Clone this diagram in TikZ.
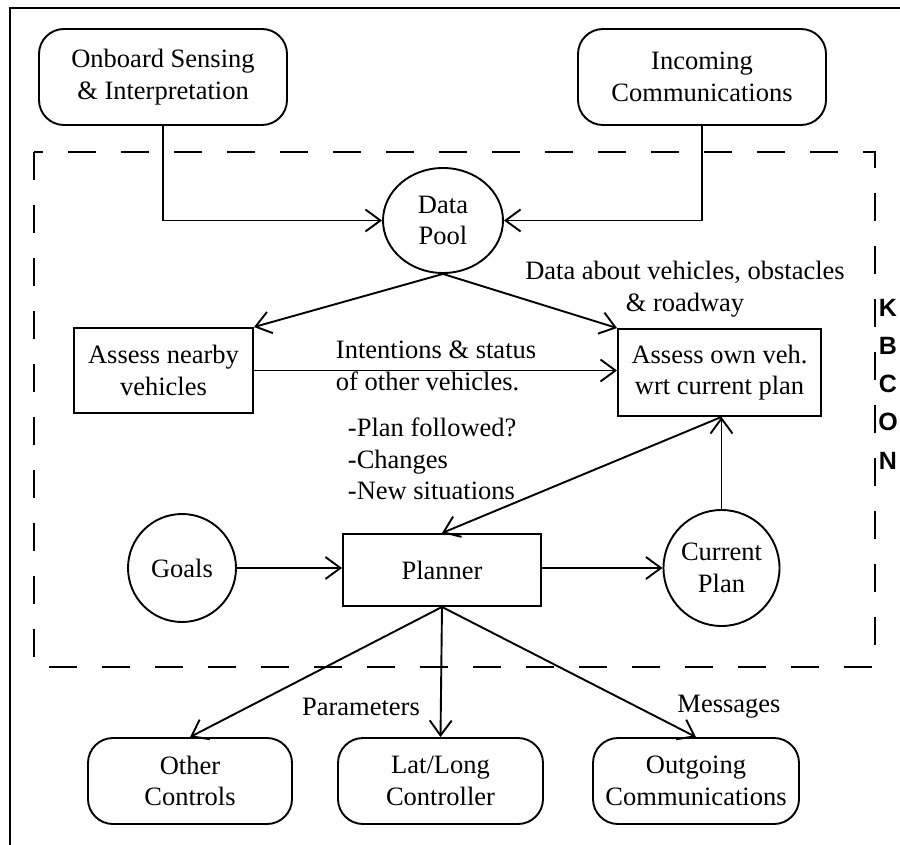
\documentclass[tikz,border=0pt]{standalone}
\usepackage{fontspec}
\setmainfont{Liberation Serif}
\newfontfamily\kbfont{Liberation Sans}
\usetikzlibrary{arrows.meta,shapes.geometric}
\begin{document}
\begin{tikzpicture}[x=1pt,y=-1pt, line width=1.9pt,
  >={Straight Barb[length=15pt,width=22pt]},
  every node/.style={font=\fontsize{26.5}{31.5}\selectfont, align=center, inner sep=0pt},
  rbox/.style={draw, rounded corners=25pt, minimum width=248pt, minimum height=96pt},
  sbox/.style={draw, rectangle},
  circ/.style={draw, circle},
  kb/.style={font=\kbfont\bfseries\fontsize{25}{25}\selectfont}
]
\useasboundingbox (0,0) rectangle (900,845);
% outer frame
\draw[line width=2.4pt] (900,8) -- (10,8) -- (10,845);
% dashed region
\draw[dash pattern=on 28pt off 25pt] (34,152) rectangle (875,667);

% nodes
\node[rbox] (onb) at (163,77) {Onboard Sensing\\\& Interpretation};
\node[rbox] (inc) at (702,77) {Incoming\\Communications};
\node[draw, ellipse, minimum width=120pt, minimum height=105pt] (pool) at (443,220.5) {Data\\Pool};
\node[sbox, minimum width=179pt, minimum height=85pt] (near) at (163.5,370.5) {Assess nearby\\vehicles};
\node[sbox, minimum width=203pt, minimum height=87pt] (own) at (719.5,372.5) {Assess own veh.\\wrt current plan};
\node[circ, minimum size=108pt] (goals) at (182,568) {Goals};
\node[sbox, minimum width=198pt, minimum height=72pt] (plan) at (442,570) {Planner};
\node[circ, minimum size=116pt] (cur) at (721.5,568) {Current\\Plan};
\node[rbox, minimum width=204pt, minimum height=86pt] (oth) at (190,781) {Other\\Controls};
\node[rbox, minimum width=205pt, minimum height=86pt] (lat) at (440.5,781) {Lat/Long\\Controller};
\node[rbox, minimum width=206pt, minimum height=86pt] (out) at (696,781) {Outgoing\\Communications};

% labels
\node (ldata) at (685,289) {Data about vehicles, obstacles\\\& roadway};
\node[anchor=west, align=left] (lint) at (335,366) {Intentions \& status\\of other vehicles.};
\node[anchor=west, align=left] (lplan) at (347,459) {-Plan followed?\\-Changes\\-New situations};
\node (lpar) at (361,707) {Parameters};
\node (lmsg) at (729,707) {Messages};

\node[kb] (kk) at (888,308) {K};
\node[kb] (kb) at (888,346) {B};
\node[kb] (kc) at (888,384) {C};
\node[kb] (ko) at (888,422) {O};
\node[kb] (kn) at (888,461) {N};

% connectors
\draw[->] (onb.south) |- (pool.west);
\draw[->] (inc.south) |- (pool.east);
\draw[->] (pool.south) -- (near.north east);
\draw[->] (pool.south) -- (own.north west);
\draw[->] (near.east) -- (near.east -| own.west);
\coordinate (ownb) at (cur.north |- own.south);
\draw[->] (cur.north) -- (ownb);
\draw[->] (ownb) -- (plan.north);
\draw[->] (goals.east) -- (goals.east -| plan.west);
\draw[->] (plan.east |- cur.west) -- (cur.west);
\draw[->] (plan.south) -- (oth.north);
\draw[->] (plan.south) -- (lat.north);
\draw[->] (plan.south) -- (out.north);
\end{tikzpicture}
\end{document}
